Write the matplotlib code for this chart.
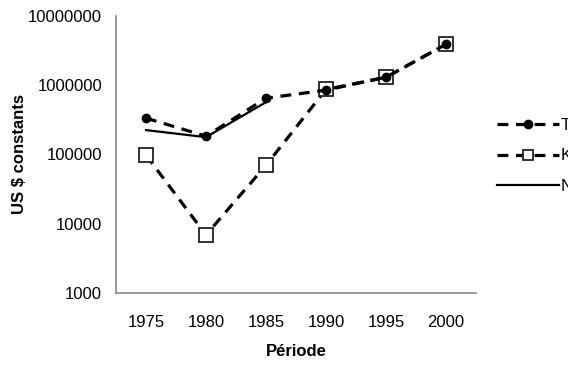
import matplotlib.pyplot as plt
from matplotlib.lines import Line2D

plt.rcParams['font.family'] = ['Liberation Sans', 'DejaVu Sans']

# data (constant US $)
periods = ['1975', '1980', '1985', '1990', '1995', '2000']
total = [335000, 184000, 650000, 850000, 1310000, 3900000]
k_vals = [98000, 6900, 70000, 870000, 1300000, 3900000]
n_vals = [225000, 178000, 570000]
labels = ['To', 'K', 'N']

fig = plt.figure(figsize=(5.68, 3.78), dpi=100)
ax = fig.add_axes([116 / 568, 1 - 293 / 378, 360 / 568, 277 / 378])

x = list(range(len(periods)))
dash = (3.4, 2.4)

ax.plot(x, k_vals, color='black', lw=2.3, dashes=dash, marker='s', ms=9.5,
        mfc='white', mec='#222222', mew=1.3, zorder=2)
ax.plot(x, total, color='black', lw=2.3, dashes=dash, marker='o', ms=6,
        mfc='black', mec='black', zorder=3)
ax.plot(x[:len(n_vals)], n_vals, color='black', lw=1.6, zorder=4)

ax.set_yscale('log')
ax.set_ylim(1000, 10000000)
ax.set_yticks([1e3, 1e4, 1e5, 1e6, 1e7])
ax.set_yticklabels(['1000', '10000', '100000', '1000000', '10000000'])
ax.minorticks_off()
ax.set_xlim(-0.5, len(periods) - 0.5)
ax.set_xticks(x)
ax.set_xticklabels(periods)
ax.tick_params(length=0, labelsize=12)
ax.tick_params(axis='x', pad=16)
ax.tick_params(axis='y', pad=10)

for s in ['top', 'right']:
    ax.spines[s].set_visible(False)
for s in ['left', 'bottom']:
    ax.spines[s].set_color('#888888')
    ax.spines[s].set_linewidth(1.2)

ax.set_xlabel('Période', fontsize=12, fontweight='bold', labelpad=10)
ax.set_ylabel('US $ constants', fontsize=12, fontweight='bold', labelpad=1)

handles = [
    Line2D([], [], color='black', lw=2.3, dashes=dash, marker='o', ms=6,
           markevery=[1], mfc='black'),
    Line2D([], [], color='black', lw=2.3, dashes=dash, marker='s', ms=7,
           markevery=[1], mfc='white', mec='#222222', mew=1.3),
    Line2D([], [], color='black', lw=1.6),
]
leg = fig.legend(handles, labels, loc='center left',
                 bbox_to_anchor=(497 / 568, 1 - 156 / 378), frameon=False,
                 fontsize=12, handlelength=3.7, handletextpad=0.1,
                 labelspacing=0.95, borderpad=0, borderaxespad=0)

fig.savefig('out.png', dpi=100)
